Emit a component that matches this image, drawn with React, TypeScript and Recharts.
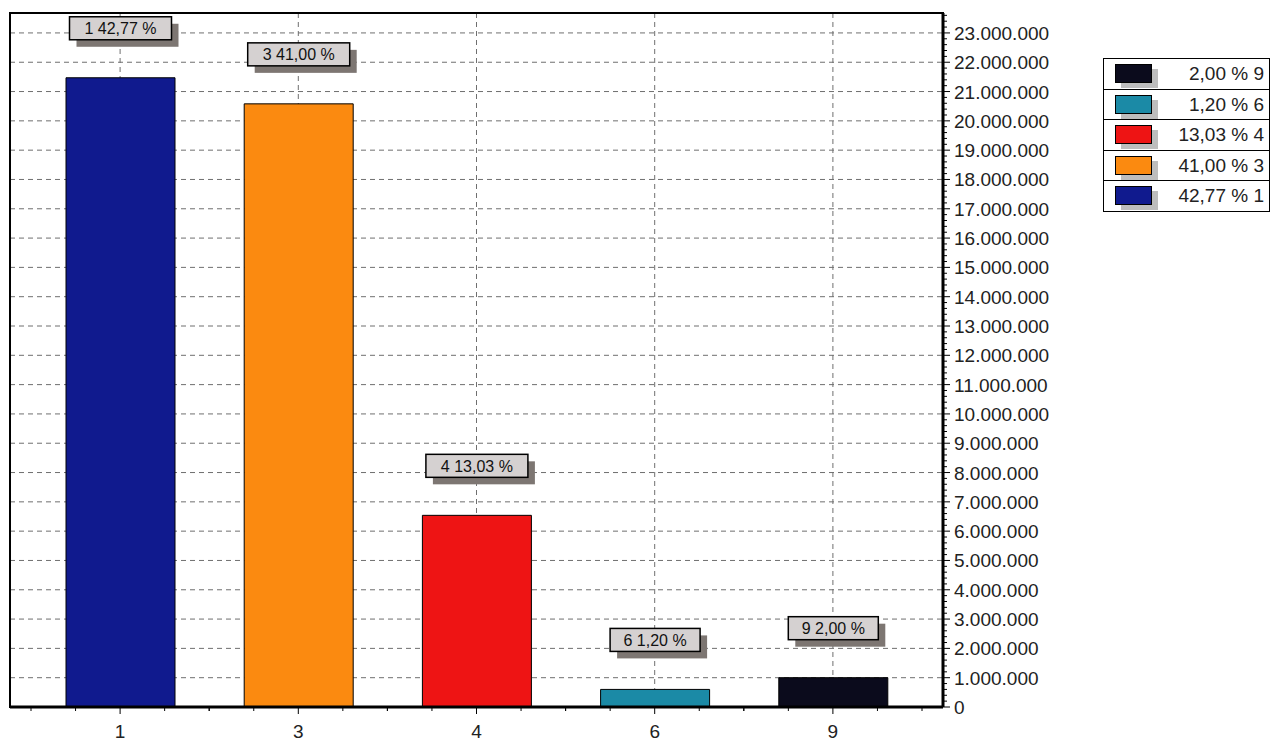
import { BarChart, Bar, XAxis, YAxis, CartesianGrid, Cell, LabelList } from "recharts";

const categories = ["1", "3", "4", "6", "9"];
const values = [21470000, 20580000, 6540000, 600000, 1000000];
const percents = ["42,77 %", "41,00 %", "13,03 %", "1,20 %", "2,00 %"];
const colors = ["#101a8e", "#fb8a10", "#ee1414", "#1b8aa6", "#0b0b1c"];
const yMajorStep = 1000000;
const yMinorStep = 200000;
const yMax = 23680000;
const yTicks = Array.from({ length: 119 }, (_, i) => i * yMinorStep);
const yGridTicks = Array.from({ length: 24 }, (_, i) => i * yMajorStep);

const data = categories.map((c, i) => ({ cat: c, value: values[i], label: c + " " + percents[i] }));

const font = "'Liberation Sans', Arial, sans-serif";

const fmt = (v: number) => (v === 0 ? "0" : v.toLocaleString("de-DE"));

function YTick(props: any) {
  const { x, y, payload } = props;
  const v = payload.value;
  const major = v % yMajorStep === 0;
  return (
    <g>
      <line x1={x} y1={y} x2={x + (major ? 7 : 4)} y2={y} stroke="#000" strokeWidth={1} />
      {major && (
        <text x={x + 11} y={y + 7} fontSize={19} fill="#222" fontFamily={font}>
          {fmt(v)}
        </text>
      )}
    </g>
  );
}

// band of one category is 178.2px; minor ticks at quarters
const quarter = 44.55;
function XTick(props: any) {
  const { x, y, payload } = props;
  return (
    <g>
      {[-2, -1, 0, 1, 2].map((k) => (
        <line
          key={k}
          x1={x + k * quarter}
          y1={y}
          x2={x + k * quarter}
          y2={y + (k === 0 ? 7 : 4)}
          stroke="#000"
          strokeWidth={1}
        />
      ))}
      <text x={x} y={y + 31} textAnchor="middle" fontSize={19} fill="#222" fontFamily={font}>
        {payload.value}
      </text>
    </g>
  );
}

function BoxLabel(props: any) {
  const { x, y, width, value } = props;
  const text = String(value);
  const w = text.length * 12 - 6;
  const h = 23;
  const cx = x + width / 2;
  const bx = cx - w / 2;
  const by = y - 38 - h;
  return (
    <g>
      <rect x={bx + 7} y={by + 7} width={w} height={h} fill="#7d7672" />
      <rect x={bx} y={by} width={w} height={h} fill="#d5d1d1" stroke="#000" strokeWidth={1.5} />
      <text x={cx} y={by + h / 2 + 6} textAnchor="middle" fontSize={16} fontFamily={font} fill="#111">
        {text}
      </text>
    </g>
  );
}

function LegendBox() {
  const order = [4, 3, 2, 1, 0];
  return (
    <div
      style={{
        position: "absolute",
        left: 1103,
        top: 58,
        width: 165,
        border: "1.5px solid #000",
        background: "#fff",
        fontFamily: font,
      }}
    >
      {order.map((i, k) => (
        <div
          key={i}
          style={{
            position: "relative",
            height: 29.5,
            borderTop: k === 0 ? "none" : "1.5px solid #000",
          }}
        >
          <div style={{ position: "absolute", left: 17, top: 10, width: 37, height: 19, background: "#bdbdbd" }} />
          <div
            style={{
              position: "absolute",
              left: 11,
              top: 5,
              width: 37,
              height: 19,
              background: colors[i],
              border: "1px solid #000",
              boxSizing: "border-box",
            }}
          />
          <div style={{ position: "absolute", right: 5, top: 4, fontSize: 19, color: "#222" }}>
            {percents[i]} {categories[i]}
          </div>
        </div>
      ))}
    </div>
  );
}

export default function App() {
  return (
    <div style={{ position: "absolute", left: 0, top: 0, width: 1277, height: 741, background: "#fff" }}>
      <BarChart
        width={1277}
        height={741}
        data={data}
        margin={{ top: 13, left: 10, right: 214, bottom: 4 }}
      >
        <CartesianGrid
          stroke="#6f6f6f"
          strokeDasharray="5 4"
          horizontalValues={yGridTicks}
        />
        <XAxis
          dataKey="cat"
          padding={{ left: 21, right: 21 }}
          height={30}
          axisLine={{ stroke: "#000", strokeWidth: 3 }}
          tickLine={false}
          tickSize={0}
          tickMargin={0}
          tick={XTick}
        />
        <YAxis
          orientation="right"
          domain={[0, yMax]}
          ticks={yTicks}
          interval={0}
          width={120}
          axisLine={{ stroke: "#000", strokeWidth: 3 }}
          tickLine={false}
          tickSize={0}
          tickMargin={0}
          tick={YTick}
          allowDataOverflow
        />
        <Bar dataKey="value" barSize={109} stroke="#000" strokeWidth={1} isAnimationActive={false}>
          {data.map((d, i) => (
            <Cell key={d.cat} fill={colors[i]} />
          ))}
          <LabelList dataKey="label" content={BoxLabel} />
        </Bar>
      </BarChart>
      {/* plot frame: left and top edges */}
      <div
        style={{
          position: "absolute",
          left: 9,
          top: 12,
          width: 935,
          height: 696,
          borderLeft: "2px solid #000",
          borderTop: "2px solid #000",
          boxSizing: "border-box",
          pointerEvents: "none",
        }}
      />
      <LegendBox />
    </div>
  );
}
